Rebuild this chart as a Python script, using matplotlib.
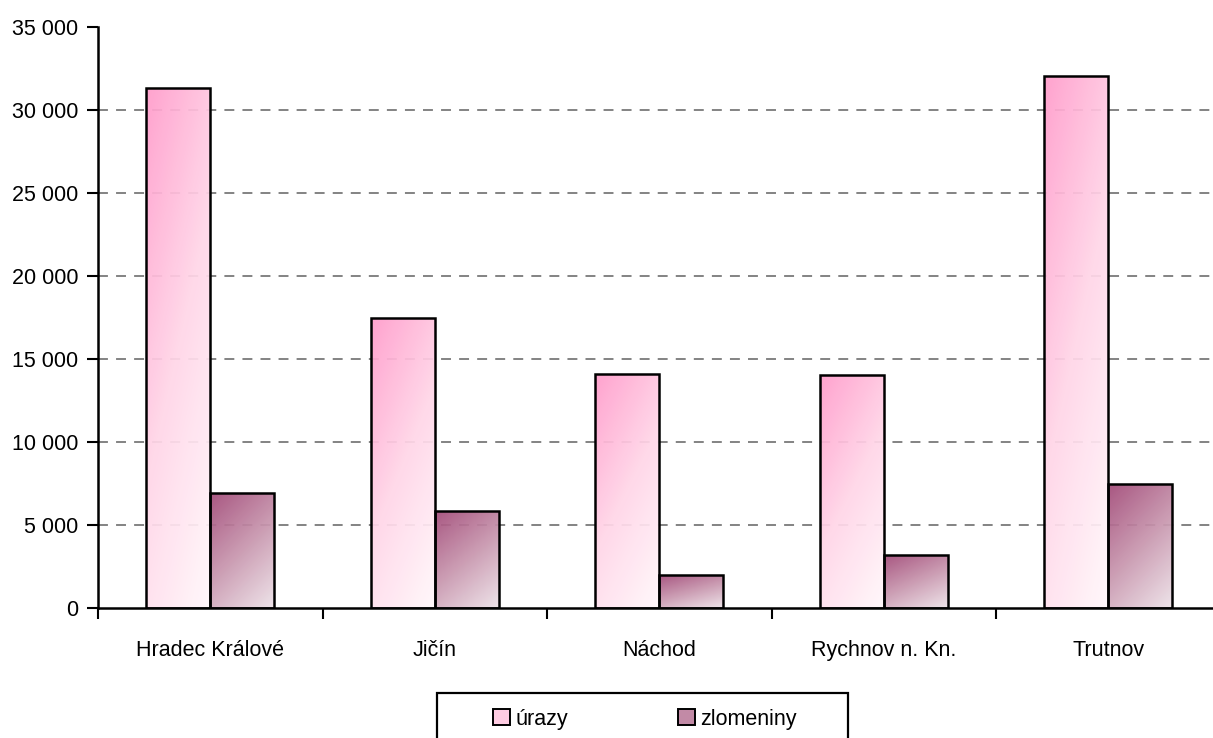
import numpy as np
import matplotlib
matplotlib.use("Agg")
import matplotlib.pyplot as plt
from matplotlib.colors import LinearSegmentedColormap
from matplotlib.patches import Rectangle
from matplotlib.ticker import FuncFormatter, MultipleLocator

categories = ["Hradec Králové", "Jičín", "Náchod", "Rychnov n. Kn.", "Trutnov"]
urazy = [31350, 17440, 14100, 14050, 32050]
zlomeniny = [6930, 5850, 1960, 3170, 7450]
series_names = ["úrazy", "zlomeniny"]
grid_values = [5000, 10000, 15000, 20000, 25000, 30000]

plt.rcParams['font.family'] = ['Liberation Sans', 'DejaVu Sans']

W, H = 1213, 738
FS = 15.5
fig = plt.figure(figsize=(W / 100, H / 100), dpi=100)
left = 98 / W
bottom = (H - 608) / H
top = (H - 27) / H
width = (224.5 * 5) / W
ax = fig.add_axes([left, bottom, width, top - bottom])

cmap_u = LinearSegmentedColormap.from_list("u", ["#FFF8FB", "#FFD6E8", "#FF9CCB"])
cmap_z = LinearSegmentedColormap.from_list("z", ["#EDE2E8", "#C896AE", "#A24A78"])

x = np.arange(len(categories))
bw = 0.285

# grid (no line at the top value)
ax.hlines(grid_values, -0.5, len(categories) - 0.5, colors='#7a7a7a',
          linestyles=(0, (5.5, 4.5)), linewidth=1.3, zorder=1)

n = 200
gx, gy = np.meshgrid(np.linspace(0, 1, n), np.linspace(0, 1, n))
grad = 0.35 * (1 - gx) + 0.65 * gy

def grad_bars(xpos, vals, cmap):
    bars = ax.bar(xpos, vals, width=bw, facecolor='none', edgecolor='black',
                  linewidth=1.8, zorder=4)
    for b in bars:
        x0, y0 = b.get_x(), b.get_y()
        w, h = b.get_width(), b.get_height()
        im = ax.imshow(grad, cmap=cmap, origin='lower', extent=[x0, x0 + w, y0, y0 + h],
                       aspect='auto', zorder=3, alpha=0.93, interpolation='bilinear',
                       vmin=0, vmax=1)
        im.set_clip_path(b)
    return bars

grad_bars(x - bw / 2, urazy, cmap_u)
grad_bars(x + bw / 2, zlomeniny, cmap_z)
ax.set_xlim(-0.5, len(categories) - 0.5)
ax.set_ylim(0, 35000)

for s in ['top', 'right']:
    ax.spines[s].set_visible(False)
for s in ['left', 'bottom']:
    ax.spines[s].set_linewidth(1.8)
    ax.spines[s].set_color('black')
    ax.spines[s].set_zorder(6)

ax.yaxis.set_major_locator(MultipleLocator(5000))
ax.yaxis.set_major_formatter(FuncFormatter(lambda v, p: f"{int(v):,}".replace(",", " ")))
ax.tick_params(axis='y', direction='out', length=8, width=1.5, labelsize=FS, pad=6)

ax.set_xticks(x)
ax.set_xticklabels(categories)
ax.tick_params(axis='x', which='major', length=0, labelsize=FS, pad=23)
ax.set_xticks(np.arange(-0.5, len(categories) + 0.5, 1), minor=True)
ax.tick_params(axis='x', which='minor', direction='out', length=8, width=1.5)

# legend
frame = Rectangle((437 / W, -0.1), 411 / W, (H - 693) / H + 0.1, transform=fig.transFigure,
                  fill=False, edgecolor='black', linewidth=1.6)
fig.patches.append(frame)
h1 = Rectangle((0, 0), 1, 1, facecolor='#FFCCE2', edgecolor='black', linewidth=1.4)
h2 = Rectangle((0, 0), 1, 1, facecolor='#C28AA6', edgecolor='black', linewidth=1.4)
fig.legend([h1, h2], series_names, loc='center left', bbox_to_anchor=(493 / W, 1 - 719 / H),
           ncol=2, frameon=False, fontsize=FS, handlelength=0.8, handleheight=0.8,
           handletextpad=0.25, columnspacing=5.1, borderaxespad=0, borderpad=0)

fig.savefig("out.png", dpi=100)
